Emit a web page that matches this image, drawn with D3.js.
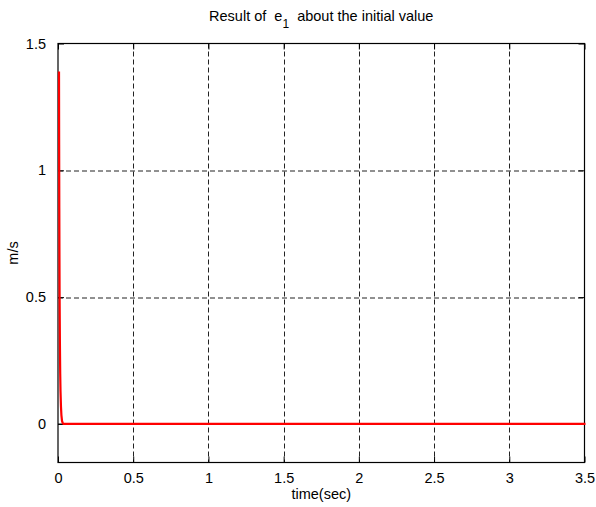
<!DOCTYPE html>
<html>
<head>
<meta charset="utf-8">
<script src="https://cdn.jsdelivr.net/npm/d3@7"></script>
<style>
body { margin: 0; background: #fff; }
text { font-family: "Liberation Sans", Arial, sans-serif; }
</style>
</head>
<body>
<script>
// time (sec) and e1 (m/s)
const timeVals = [0, 0.001, 0.002, 0.003, 0.004, 0.006, 0.008, 0.010, 0.013, 0.016, 0.020, 0.025, 0.03, 0.5, 1, 1.5, 2, 2.5, 3, 3.5];
const e1Vals = [1.39, 1.1, 0.85, 0.65, 0.5, 0.32, 0.2, 0.13, 0.07, 0.035, 0.012, 0.003, 0, 0, 0, 0, 0, 0, 0, 0];
const xTicks = [0, 0.5, 1, 1.5, 2, 2.5, 3, 3.5];
const yTicks = [0, 0.5, 1, 1.5];

const width = 596, height = 507;
const margin = { top: 43.5, right: 11.5, bottom: 44.5, left: 58 };
const w = width - margin.left - margin.right;
const h = height - margin.top - margin.bottom;
const fs = 14.5;

const svg = d3.select("body").append("svg")
	.attr("width", width)
	.attr("height", height);

const g = svg.append("g").attr("transform", `translate(${margin.left},${margin.top})`);

const x = d3.scaleLinear().domain([0, 3.5]).range([0, w]);
const y = d3.scaleLinear().domain([-0.152, 1.5]).range([h, 0]);

// grid
g.append("g").selectAll("line").data(xTicks.slice(1, -1)).enter().append("line")
	.attr("x1", (d) => Math.round(x(d)) + 0.5).attr("x2", (d) => Math.round(x(d)) + 0.5)
	.attr("y1", 0).attr("y2", h)
	.attr("stroke", "#222").attr("stroke-dasharray", "5,3");
g.append("g").selectAll("line").data(yTicks.slice(0, -1)).enter().append("line")
	.attr("y1", (d) => Math.round(y(d)) + 0.5).attr("y2", (d) => Math.round(y(d)) + 0.5)
	.attr("x1", 0).attr("x2", w)
	.attr("stroke", "#222").attr("stroke-dasharray", "5,3");

// axes (ticks inward on all four sides)
const fmt = (d) => d3.format("")(d);
const xb = g.append("g").attr("transform", `translate(0,${h})`)
	.call(d3.axisBottom(x).tickValues(xTicks).tickFormat(fmt).tickSizeInner(-6).tickSizeOuter(0).tickPadding(10));
const xt = g.append("g")
	.call(d3.axisTop(x).tickValues(xTicks).tickFormat("").tickSizeInner(-6).tickSizeOuter(0));
const yl = g.append("g")
	.call(d3.axisLeft(y).tickValues(yTicks).tickFormat(fmt).tickSizeInner(-6).tickSizeOuter(0).tickPadding(12));
const yr = g.append("g").attr("transform", `translate(${w},0)`)
	.call(d3.axisRight(y).tickValues(yTicks).tickFormat("").tickSizeInner(-6).tickSizeOuter(0));

[xb, xt, yl, yr].forEach((a) => {
	a.select(".domain").remove();
	a.selectAll("line").attr("stroke", "#000");
	a.selectAll("text").attr("font-size", fs).attr("fill", "#000")
		.attr("font-family", "'Liberation Sans', Arial, sans-serif");
});

// box
g.append("rect").attr("x", 0).attr("y", 0).attr("width", w).attr("height", h)
	.attr("fill", "none").attr("stroke", "#000").attr("stroke-width", 1.2);

// data line
const line = d3.line().x((d, i) => x(timeVals[i]) + 1).y((d) => y(d));
g.append("path").datum(e1Vals)
	.attr("d", line)
	.attr("fill", "none")
	.attr("stroke", "#ff0000")
	.attr("stroke-width", 2.2);

// title
const title = svg.append("text")
	.attr("x", margin.left + w / 2)
	.attr("y", 21)
	.attr("text-anchor", "middle")
	.attr("font-size", fs)
	.attr("xml:space", "preserve");
title.append("tspan").text("Result of  e");
title.append("tspan").attr("dy", 7).attr("font-size", 12).text("1");
title.append("tspan").attr("dy", -7).text("  about the initial value");

// axis labels
svg.append("text")
	.attr("x", margin.left + w / 2)
	.attr("y", 499)
	.attr("text-anchor", "middle")
	.attr("font-size", fs)
	.text("time(sec)");
svg.append("text")
	.attr("transform", `translate(18,${margin.top + h / 2}) rotate(-90)`)
	.attr("text-anchor", "middle")
	.attr("font-size", fs)
	.text("m/s");
</script>
</body>
</html>
